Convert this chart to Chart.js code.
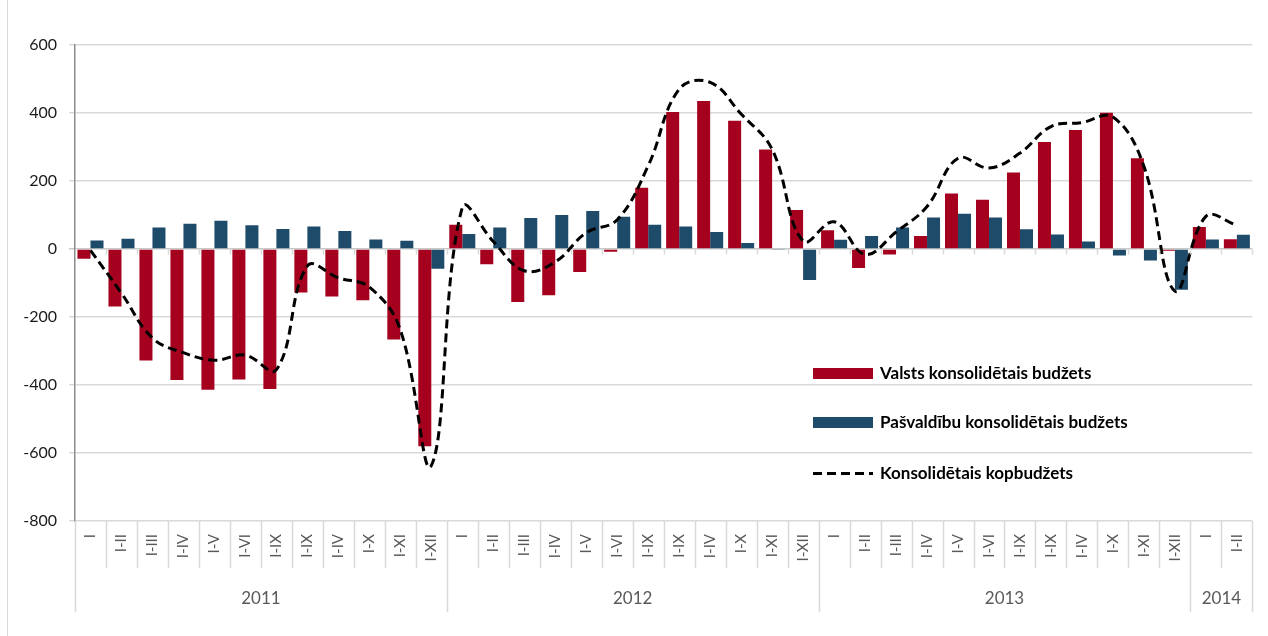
<!DOCTYPE html>
<html>
<head>
<meta charset="utf-8">
<script src="https://cdn.jsdelivr.net/npm/chart.js@4"></script>
<style>
  body { margin: 0; background: #fff; }
  #wrap { position: relative; width: 1268px; height: 636px; }
</style>
</head>
<body>
<div id="wrap"><canvas id="budgetChart" width="1268" height="636"></canvas></div>
<script>
// x axis: period labels (as printed) and the year groups under them
var periods = [
    'I', 'I-II', 'I-III', 'I-IV', 'I-V', 'I-VI', 'I-IX', 'I-IX', 'I-IV', 'I-X', 'I-XI', 'I-XII',
    'I', 'I-II', 'I-III', 'I-IV', 'I-V', 'I-VI', 'I-IX', 'I-IX', 'I-IV', 'I-X', 'I-XI', 'I-XII',
    'I', 'I-II', 'I-III', 'I-IV', 'I-V', 'I-VI', 'I-IX', 'I-IX', 'I-IV', 'I-X', 'I-XI', 'I-XII',
    'I', 'I-II'
];
var years = ['2011', '2012', '2013', '2014'];
var yearLengths = [12, 12, 12, 2];

// values, milj. EUR
var valsts = [
    -29, -169, -328, -385, -414, -384, -412, -128, -140, -151, -266, -580,
    71, -45, -156, -136, -68, -8, 180, 403, 435, 377, 293, 115,
    55, -56, -16, 38, 163, 145, 225, 315, 350, 401, 267, -5,
    65, 29
];
var pasvaldibas = [
    25, 30, 63, 74, 83, 70, 59, 66, 53, 28, 24, -58,
    44, 63, 91, 100, 112, 95, 71, 66, 50, 18, -3, -91,
    27, 38, 63, 93, 104, 93, 58, 43, 22, -19, -34, -120,
    28, 42
];
var kopbudzets = [
    -4, -130, -262, -305, -327, -312, -355, -50, -85, -112, -238, -637,
    122, 22, -64, -38, 48, 86, 245, 470, 490, 397, 293, 23,
    80, -16, 50, 125, 267, 238, 282, 360, 372, 388, 243, -124,
    96, 70
];

var yTicks = { min: -800, max: 600, step: 200 };

const redColor = '#A6001F';
const blueColor = '#1F4B6B';
const fontName = 'Lato, "Open Sans", sans-serif';

// year rows, separators and the legend are drawn here
const axisExtras = {
    id: 'axisExtras',
    beforeDraw: (chart) => {
        let ctx = chart.ctx;
        ctx.save();
        ctx.strokeStyle = '#d9d9d9';
        ctx.lineWidth = 1;
        ctx.beginPath();
        ctx.moveTo(7.5, 0);
        ctx.lineTo(7.5, chart.height);
        ctx.stroke();
        ctx.restore();
    },
    afterDraw: (chart) => {
        let ctx = chart.ctx;
        let xs = chart.scales.x;
        let ys = chart.scales.y;
        let n = chart.data.labels.length;
        let step = (xs.right - xs.left) / n;
        let bottom = chart.chartArea.bottom;
        let zeroY = Math.round(ys.getPixelForValue(0)) + 0.5;

        let edges = [0];
        yearLengths.forEach((len, i) => edges.push(edges[i] + len));

        ctx.save();
        ctx.strokeStyle = '#d9d9d9';
        ctx.lineWidth = 1.5;
        for (let i = 0; i <= n; i++) {
            let bx = Math.round(xs.left + i * step) + 0.5;
            let long = edges.indexOf(i) >= 0;
            ctx.beginPath();
            ctx.moveTo(bx, bottom);
            ctx.lineTo(bx, long ? bottom + 91 : bottom + 47);
            ctx.stroke();
            if (i > 0) {
                ctx.beginPath();
                ctx.moveTo(bx, zeroY);
                ctx.lineTo(bx, zeroY + 5);
                ctx.stroke();
            }
        }

        // year labels
        ctx.fillStyle = '#595959';
        ctx.font = '17px ' + fontName;
        ctx.textAlign = 'center';
        ctx.textBaseline = 'middle';
        years.forEach((yr, i) => {
            let cx = xs.left + (edges[i] + edges[i + 1]) / 2 * step;
            ctx.fillText(yr, cx, bottom + 78);
        });

        // legend
        let rows = [373, 422, 473];
        ctx.textAlign = 'left';
        ctx.font = 'bold 17px ' + fontName;
        chart.data.datasets.forEach((ds, i) => {
            let cy = rows[i];
            if (ds.type === 'line') {
                ctx.strokeStyle = ds.borderColor;
                ctx.lineWidth = ds.borderWidth;
                ctx.setLineDash(ds.borderDash);
                ctx.beginPath();
                ctx.moveTo(813, cy + 0.5);
                ctx.lineTo(873, cy + 0.5);
                ctx.stroke();
                ctx.setLineDash([]);
            } else {
                ctx.fillStyle = ds.backgroundColor;
                ctx.fillRect(813, cy - 5, 60, 11);
            }
            ctx.fillStyle = '#000';
            ctx.fillText(ds.label, 880, cy + 1);
        });
        ctx.restore();
    }
};

var budgetChart = new Chart(document.getElementById('budgetChart'), {
    type: 'bar',
    data: {
        labels: periods,
        datasets: [
            {
                label: 'Valsts konsolidētais budžets',
                data: valsts,
                backgroundColor: redColor,
                categoryPercentage: 0.84,
                barPercentage: 1.0,
                order: 2
            },
            {
                label: 'Pašvaldību konsolidētais budžets',
                data: pasvaldibas,
                backgroundColor: blueColor,
                categoryPercentage: 0.84,
                barPercentage: 1.0,
                order: 2
            },
            {
                type: 'line',
                label: 'Konsolidētais kopbudžets',
                data: kopbudzets,
                borderColor: '#000',
                borderWidth: 3,
                borderDash: [9, 5],
                pointRadius: 0,
                tension: 0.4,
                fill: false,
                order: 1
            }
        ]
    },
    options: {
        responsive: false,
        animation: false,
        layout: { padding: { top: 45, right: 10, bottom: 24, left: 0 } },
        plugins: {
            legend: { display: false },
            tooltip: { enabled: false }
        },
        scales: {
            x: {
                grid: { display: false, drawTicks: false },
                border: { display: false },
                ticks: {
                    autoSkip: false,
                    maxRotation: 90,
                    minRotation: 90,
                    padding: 13,
                    color: '#595959',
                    font: { family: fontName, size: 15 }
                },
                afterFit: (scale) => { scale.height = 91; }
            },
            y: {
                min: yTicks.min,
                max: yTicks.max,
                ticks: {
                    stepSize: yTicks.step,
                    padding: 12,
                    color: '#1a1a1a',
                    font: { family: fontName, size: 16 }
                },
                grid: {
                    color: (c) => c.tick && c.tick.value === 0 ? '#c8c8c8' : '#d9d9d9',
                    lineWidth: 1.5,
                    tickLength: 6
                },
                border: { display: true, color: '#8c8c8c', width: 1.5 },
                afterFit: (scale) => { scale.width = 75; }
            }
        }
    },
    plugins: [axisExtras]
});
</script>
</body>
</html>
